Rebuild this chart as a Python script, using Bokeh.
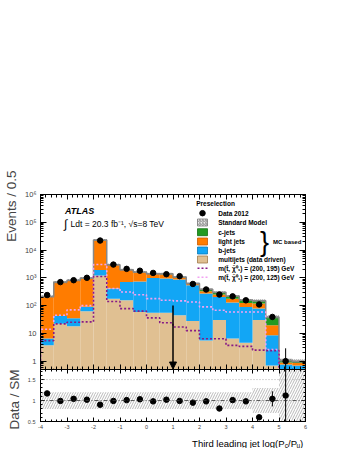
import numpy as np
from bokeh.plotting import figure
from bokeh.layouts import column
from bokeh.models import (Range1d, FixedTicker, LinearAxis, LogAxis, Label, Arrow, NormalHead, Span,
                          CustomJSTickFormatter, Title)
from bokeh.embed import file_html
from bokeh.resources import INLINE

# ---------------- data ----------------
bin_edges = [-4.0, -3.5, -3.0, -2.5, -2.0, -1.5, -1.0, -0.5, 0.0, 0.5, 1.0,
             1.5, 2.0, 2.5, 3.0, 3.5, 4.0, 4.5, 5.0, 5.5, 6.0]
multijets = [3.7, 22, 18, 62, 1200, 178, 155, 59, 55, 55, 45, 28, 5.5, 30, 6.6, 4.6, 30, 0.7, 0.3, 0.3]
b_jets = [2.9, 20, 17, 28, 700, 232, 545, 681, 925, 885, 825, 512, 265, 175, 123, 85, 48, 7.8, 0.45, 0.4]
light_jets = [206, 648, 775, 880, 20600, 2490, 1200, 840, 380, 400, 130, 60, 60, 45, 45, 35, 42, 11.1, 0.15, 0.15]
c_jets = [2, 10, 10, 10, 500, 50, 50, 40, 40, 60, 70, 30, 60, 50, 45, 35, 30, 19.4, 0.17, 0.15]
sm_band_main = [0.08, 0.08, 0.08, 0.08, 0.08, 0.08, 0.08, 0.08, 0.08, 0.08,
                0.08, 0.08, 0.08, 0.08, 0.08, 0.08, 0.1, 0.12, 0.15, 0.15]
sig_200_195 = [5.5, 22, 25, 26, 1120, 140, 78, 63, 36, 24, 17, 12.5, 6.4, 6.4, 3.7, 3.4, 2.5, 2.4, 0.3, 0.3]
sig_200_125 = [14, 45, 70, 100, 3000, 410, 310, 245, 178, 155, 148, 135, 90, 68, 59, 59, 59, 2.6, 0.3, 0.3]

data_x = [-3.75, -3.25, -2.75, -2.25, -1.75, -1.25, -0.75, -0.25, 0.25, 0.75,
          1.25, 1.75, 2.25, 2.75, 3.25, 3.75, 4.25, 4.75, 5.25]
data_y = [240, 700, 820, 1000, 22000, 3000, 2100, 1800, 1500, 1350,
          1150, 600, 380, 250, 215, 155, 110, 39, 1.0]
data_lo = [225, 680, 800, 980, 21800, 2950, 2050, 1750, 1460, 1310, 1120, 580, 365, 237, 202, 145, 100, 34, 0.3]
data_hi = [255, 720, 840, 1030, 22200, 3050, 2150, 1850, 1540, 1390, 1180, 620, 395, 263, 228, 165, 120, 45, 2.9]

ratio = [1.17, 0.99, 1.04, 1.02, 0.90, 0.99, 1.01, 1.03, 0.98, 1.02,
         0.99, 0.95, 0.98, 0.81, 1.01, 0.98, 0.60, 1.04, 1.12]
ratio_lo = [1.15, 0.98, 1.03, 1.01, 0.89, 0.98, 1.0, 1.02, 0.97, 1.01, 0.98, 0.94, 0.96, 0.78, 0.98, 0.95, 0.55, 0.86, 0.3]
ratio_hi = [1.19, 1.0, 1.05, 1.03, 0.91, 1.0, 1.02, 1.04, 0.99, 1.03, 1.0, 0.96, 1.0, 0.84, 1.04, 1.01, 0.65, 1.22, 2.0]
ratio_band = [0.2, 0.2, 0.2, 0.2, 0.2, 0.2, 0.2, 0.2, 0.2, 0.2,
              0.2, 0.2, 0.2, 0.2, 0.2, 0.2, 0.3, 0.3, 1.0, 1.0]

x_ticks = [-4, -3, -2, -1, 0, 1, 2, 3, 4, 5, 6]
y_ticks = [1, 10, 100, 1000, 10000, 100000, 1000000]
y_tick_labels = ["1", "10", "10²", "10³", "10⁴", "10⁵", "10⁶"]
r_ticks = [0.5, 1.0, 1.5]
r_tick_labels = ["0.5", "1", "1.5"]
cut_value = 1.0
cut_arrow_top = 100

# ---------------- colours ----------------
C_GREEN = "#229a22"
C_ORANGE = "#ff7c00"
C_BLUE = "#12a6f5"
C_BEIGE = "#e0c092"
C_PURPLE = "#861a86"
C_PINK = "#f2a2f2"
FONT = "Liberation Sans"

FW, FH = 265, 175
LEFT, RIGHT = 39, 45

def X(px):
    return -4 + (px - 39) / 26.5

def Y1(py):
    return 10 ** (6 - (py - 194) * (6 - np.log10(0.5)) / FH)

lefts = bin_edges[:-1]
rights = bin_edges[1:]
l0 = np.full(len(lefts), 0.01)
l1 = np.array(multijets, float)
l2 = l1 + np.array(b_jets)
l3 = l2 + np.array(light_jets)
l4 = l3 + np.array(c_jets)

def style_axis(ax, major_in, minor_in, show_labels, size="7px", standoff=4):
    ax.major_tick_in = major_in
    ax.major_tick_out = 0
    ax.minor_tick_in = minor_in
    ax.minor_tick_out = 0
    ax.axis_line_color = "black"
    ax.major_tick_line_color = "black"
    ax.minor_tick_line_color = "black"
    ax.major_label_text_font = FONT
    if show_labels:
        ax.major_label_text_font_size = size
        ax.major_label_standoff = standoff
    else:
        ax.formatter = CustomJSTickFormatter(code="return '';")
        ax.major_label_text_font_size = "1px"
        ax.major_label_standoff = 0

x_minor = [round(-4 + 0.2 * i, 2) for i in range(51)]
y_minor = []
for d in range(-1, 6):
    for m in range(1, 10):
        v = m * 10 ** d
        if 0.5 <= v <= 1e6:
            y_minor.append(v)
r_minor = [round(0.5 + 0.1 * i, 2) for i in range(13)]

# ---------------- main panel ----------------
p1 = figure(x_range=Range1d(-4, 6), y_range=Range1d(0.5, 1e6), y_axis_type="log",
            frame_width=FW, frame_height=FH, min_border_left=LEFT, min_border_right=RIGHT,
            min_border_top=194, min_border_bottom=0, output_backend="svg", toolbar_location=None)
p1.grid.visible = False
p1.outline_line_color = "black"

p1.xaxis.ticker = FixedTicker(ticks=x_ticks, minor_ticks=x_minor)
style_axis(p1.xaxis[0], 5, 3, False)
p1.yaxis.ticker = FixedTicker(ticks=y_ticks, minor_ticks=y_minor)
p1.yaxis.major_label_overrides = {float(t): s for t, s in zip(y_ticks, y_tick_labels)}
style_axis(p1.yaxis[0], 6, 3, True, "7.5px", 4)

top1 = LinearAxis(ticker=FixedTicker(ticks=x_ticks, minor_ticks=x_minor))
style_axis(top1, 5, 3, False)
p1.add_layout(top1, "above")
right1 = LogAxis(ticker=FixedTicker(ticks=y_ticks, minor_ticks=y_minor))
style_axis(right1, 6, 3, False)
p1.add_layout(right1, "right")

p1.add_layout(Title(text="Events / 0.5", align="right", vertical_align="middle", offset=-24,
                    standoff=4, text_font=FONT, text_font_size="13.5px", text_font_style="normal"), "left")

p1.quad(left=lefts, right=rights, bottom=l0, top=l1, fill_color=C_BEIGE, line_color=None)
p1.quad(left=lefts, right=rights, bottom=l1, top=l2, fill_color=C_BLUE, line_color=None)
p1.quad(left=lefts, right=rights, bottom=l2, top=l3, fill_color=C_ORANGE, line_color=None)
p1.quad(left=lefts, right=rights, bottom=l3, top=l4, fill_color=C_GREEN, line_color=None)

# SM uncertainty band and outline
unc = np.array(sm_band_main)
p1.quad(left=lefts, right=rights, bottom=l4 * (1 - unc), top=l4 * (1 + unc),
        fill_color="#9a9a9a", fill_alpha=0.35, line_color=None,
        hatch_pattern="/", hatch_color="#6e6e6e", hatch_scale=4, hatch_weight=0.7)
tot_x = [bin_edges[0]] + bin_edges + [bin_edges[-1]]
tot_y = [0.01] + list(l4) + [0.01, 0.01]
p1.step(x=tot_x, y=tot_y, mode="after", line_color="#888888", line_width=1.5)

# signals
for vals, col in ((sig_200_125, C_PINK), (sig_200_195, C_PURPLE)):
    sx = [bin_edges[0]] + bin_edges
    sy = [0.01] + list(vals) + [vals[-1]]
    p1.step(x=sx, y=sy, mode="after", line_color=col, line_width=1.6, line_dash="2 2")

# data
p1.segment(x0=data_x, y0=data_lo, x1=data_x, y1=data_hi, line_color="black", line_width=1)
p1.scatter(data_x, data_y, size=5.5, marker="circle", fill_color="black", line_color="black")

# cut arrow
p1.add_layout(Arrow(end=NormalHead(size=7, fill_color="black", line_color="black"),
                    x_start=cut_value, y_start=cut_arrow_top, x_end=cut_value, y_end=0.52,
                    line_color="black", line_width=1.5))

def lab(p, x, y, text, size, style="normal", align="left", baseline="middle", color="black"):
    p.add_layout(Label(x=x, y=y, text=text, text_font=FONT, text_font_size=size,
                       text_font_style=style, text_align=align, text_baseline=baseline,
                       text_color=color))

lab(p1, X(63.5), Y1(210), "ATLAS", "9px", style="bold italic")
lab(p1, X(62.5), Y1(223), "∫", "12px")
lab(p1, X(69), Y1(223.5), "Ldt = 20.3 fb⁻¹, √s=8 TeV", "8.5px")

# legend
LX0, LX1, TX = 196, 206, 216.7
lab(p1, X(194.7), Y1(203.3), "Preselection", "6.5px", style="bold")
rows = [212.7, 222, 231.7, 241, 250, 259, 267.7, 276.7]
p1.scatter([X(201)], [Y1(rows[0])], size=5.5, marker="circle", fill_color="black", line_color="black")
lab(p1, X(TX), Y1(rows[0]), "Data 2012", "6.5px", style="bold")
p1.quad(left=[X(LX0)], right=[X(LX1)], bottom=[Y1(rows[1] + 3.5)], top=[Y1(rows[1] - 3.5)],
        fill_color="#cccccc", fill_alpha=0.4, line_color="#777777", line_width=0.8,
        hatch_pattern="/", hatch_color="#666666", hatch_scale=3, hatch_weight=0.7)
lab(p1, X(TX), Y1(rows[1]), "Standard Model", "6.5px", style="bold")
box_items = [(C_GREEN, "#117011", "c-jets"), (C_ORANGE, "#c85a00", "light jets"),
             (C_BLUE, "#0a78b5", "b-jets"), (C_BEIGE, "#a07a4a", "multijets (data driven)")]
for (fc, lc, name), ry in zip(box_items, rows[2:6]):
    p1.quad(left=[X(LX0)], right=[X(LX1)], bottom=[Y1(ry + 3.5)], top=[Y1(ry - 3.5)],
            fill_color=fc, line_color=lc, line_width=0.8)
    lab(p1, X(TX), Y1(ry), name, "6.5px", style="bold")
for col, name, ry in ((C_PURPLE, "m(t̃, χ̃⁰₁) = (200, 195) GeV", rows[6]),
                      (C_PINK, "m(t̃, χ̃⁰₁) = (200, 125) GeV", rows[7])):
    p1.segment(x0=[X(LX0)], x1=[X(LX1)], y0=[Y1(ry)], y1=[Y1(ry)], line_color=col,
               line_width=1.6, line_dash="2 2")
    lab(p1, X(TX), Y1(ry), name, "6.5px", style="bold")
lab(p1, X(258.5), Y1(241.5), "}", "27px")
lab(p1, X(271.5), Y1(241), "MC based", "6px", style="bold")

# ---------------- ratio panel ----------------
p2 = figure(x_range=p1.x_range, y_range=Range1d(0.5, 1.74),
            frame_width=FW, frame_height=52, min_border_left=LEFT, min_border_right=RIGHT,
            min_border_top=0, min_border_bottom=12, output_backend="svg", toolbar_location=None)
p2.grid.visible = False
p2.outline_line_color = "black"
p2.xaxis.ticker = FixedTicker(ticks=x_ticks, minor_ticks=x_minor)
p2.xaxis.major_label_overrides = {float(t): str(t) for t in x_ticks}
style_axis(p2.xaxis[0], 4, 2, True, "5.5px", 3)
p2.yaxis.ticker = FixedTicker(ticks=r_ticks, minor_ticks=r_minor)
p2.yaxis.major_label_overrides = {float(t): s for t, s in zip(r_ticks, r_tick_labels)}
style_axis(p2.yaxis[0], 4, 2, True, "5.5px", 5)
top2 = LinearAxis(ticker=FixedTicker(ticks=x_ticks, minor_ticks=x_minor))
style_axis(top2, 4, 2, False)
p2.add_layout(top2, "above")
right2 = LinearAxis(ticker=FixedTicker(ticks=r_ticks, minor_ticks=r_minor))
style_axis(right2, 4, 2, False)
p2.add_layout(right2, "right")
p2.add_layout(Title(text="Data / SM", align="right", vertical_align="middle", offset=0,
                    standoff=4, text_font=FONT, text_font_size="13.5px", text_font_style="normal"), "left")

rb = np.array(ratio_band)
p2.quad(left=lefts, right=rights, bottom=1 - rb, top=1 + rb, fill_alpha=0, line_color=None,
        hatch_pattern="/", hatch_color="#8a8a8a", hatch_scale=5, hatch_weight=0.6)
p2.add_layout(Span(location=1.5, dimension="width", line_color="#999999", line_width=0.8, line_dash="1 2"))
p2.add_layout(Span(location=1.0, dimension="width", line_color="#333333", line_width=0.8, line_dash="4 2 1 2"))
p2.segment(x0=data_x, y0=ratio_lo, x1=data_x, y1=ratio_hi, line_color="black", line_width=1)
p2.scatter(data_x, ratio, size=5.5, marker="circle", fill_color="black", line_color="black")

# ---------------- x-axis title strip (same frame as the panels above) ----------------
H3 = 15
p3 = figure(x_range=p1.x_range, y_range=Range1d(H3, 0), frame_width=FW, frame_height=H3,
            min_border_left=LEFT, min_border_right=RIGHT, min_border_top=0, min_border_bottom=0,
            x_axis_location=None, y_axis_location=None, output_backend="svg", toolbar_location=None)
p3.grid.visible = False
p3.outline_line_color = None
lab(p3, X(283), 9.5, "Third leading jet log(P", "9.5px", align="right", baseline="alphabetic")
lab(p3, X(283.3), 11.5, "c", "6.5px", baseline="alphabetic")
lab(p3, X(286.5), 9.5, "/P", "9.5px", baseline="alphabetic")
lab(p3, X(295), 11.5, "u", "6.5px", baseline="alphabetic")
lab(p3, X(298.6), 9.5, ")", "9.5px", baseline="alphabetic")

layout = column(p1, p2, p3)
open("out.html", "w").write(file_html(layout, INLINE))
